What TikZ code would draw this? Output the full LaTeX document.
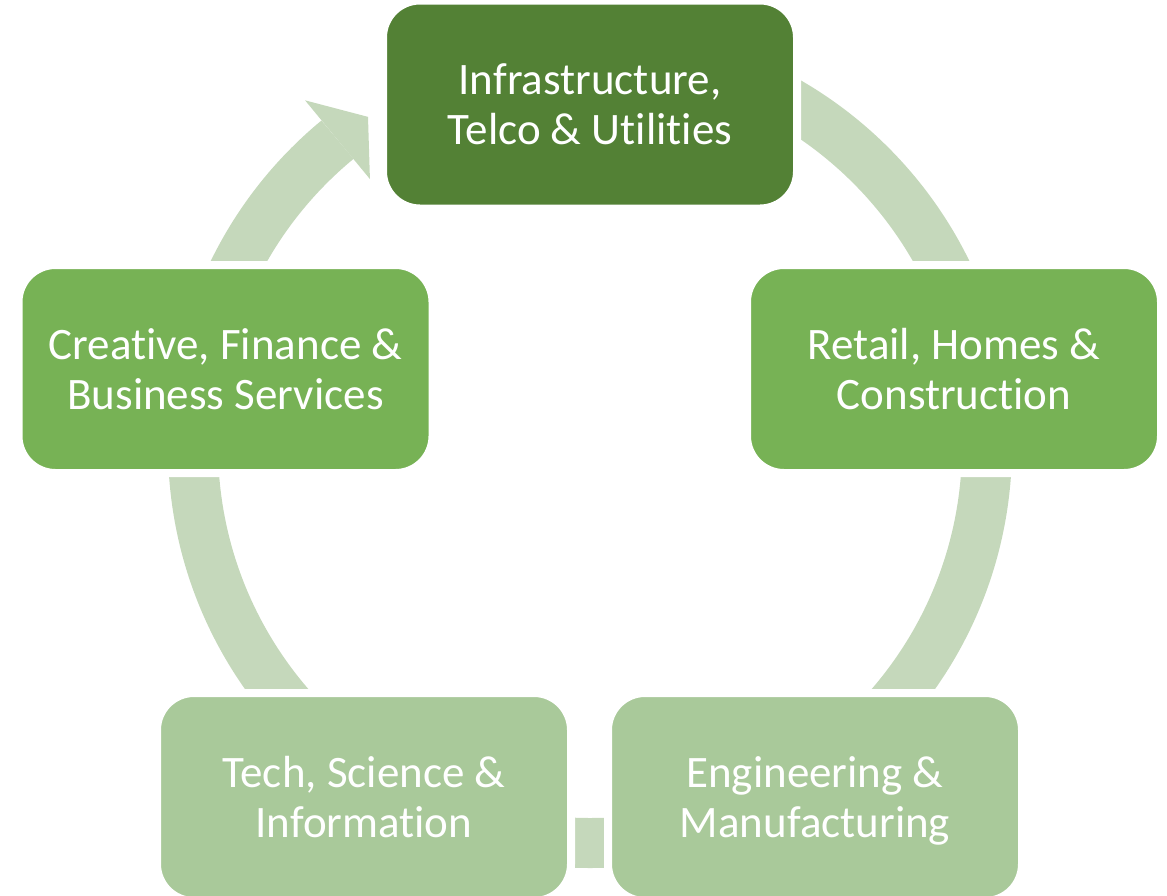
\documentclass[tikz,border=0pt]{standalone}
\usepackage{fontspec}
\setmainfont{Carlito}[Ligatures={NoCommon,NoContextual}]
\usetikzlibrary{calc}
\definecolor{dkgreen}{HTML}{538135}
\definecolor{mdgreen}{HTML}{77B255}
\definecolor{ltgreen}{HTML}{A9C99A}
\definecolor{ringgreen}{HTML}{C5D8BB}
\begin{document}
\begin{tikzpicture}[x=1pt,y=1pt,
  box/.style={rounded corners=37pt, draw=white, line width=8pt,
    minimum width=414pt, minimum height=208pt, inner sep=0pt,
    align=center, text=white, text depth=0pt, font=\fontsize{45}{50}\selectfont},
  ring/.style={draw=ringgreen, line width=50pt},
  ringhead/.style={fill=ringgreen}]
\useasboundingbox (0,0) rectangle (1167,-895);
\coordinate (c) at (590,-446);
% cycle ring
\draw[ring] ($(c)+(90:397)$) arc[start angle=90, end angle=-230.5, radius=397];
\fill[ringhead] ($(c)+(129.5:448)$) -- ($(c)+(124:397)$) -- ($(c)+(129.5:346)$) -- cycle;
% boxes
\node[box, fill=dkgreen] (n1) at (590,-104.5) {Infrastructure,\\Telco \& Utilities};
\node[box, fill=mdgreen] (n2) at (954,-369) {Retail, Homes \&\\Construction};
\node[box, fill=ltgreen] (n3) at (815,-797) {Engineering \&\\Manufacturing};
\node[box, fill=ltgreen] (n4) at (364,-797) {Tech, Science \&\\Information};
\node[box, fill=mdgreen] (n5) at (225.5,-369) {Creative, Finance \&\\Business Services};
\end{tikzpicture}
\end{document}
